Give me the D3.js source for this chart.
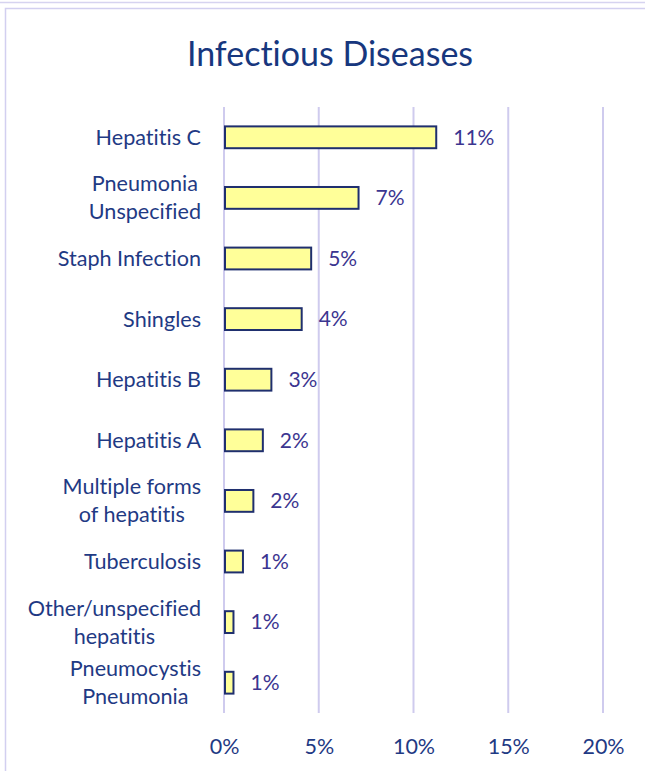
<!DOCTYPE html>
<html>
<head>
<meta charset="utf-8">
<script src="https://cdn.jsdelivr.net/npm/d3@7"></script>
<style>
  html, body { margin: 0; padding: 0; background: #ffffff; }
  svg { display: block; }
  text { font-variant-ligatures: none; }
</style>
</head>
<body>
<script>
const title = "Infectious Diseases";
const categories = [
  ["Hepatitis C"],
  ["Pneumonia", "Unspecified"],
  ["Staph Infection"],
  ["Shingles"],
  ["Hepatitis B"],
  ["Hepatitis A"],
  ["Multiple forms", "of hepatitis"],
  ["Tuberculosis"],
  ["Other/unspecified", "hepatitis"],
  ["Pneumocystis", "Pneumonia"]
];
const values = [11.2, 7.1, 4.6, 4.1, 2.5, 2.05, 1.55, 1.0, 0.5, 0.5];
const valueLabels = ["11%", "7%", "5%", "4%", "3%", "2%", "2%", "1%", "1%", "1%"];
const xTicks = [0, 5, 10, 15, 20];

const W = 645, H = 771;
const FONT = "Lato, 'Open Sans', sans-serif";
const margin = { left: 224, right: 42, top: 107, bottom: 58 };

const svg = d3.select("body").append("svg").attr("width", W).attr("height", H);

// outer frames
svg.append("line").attr("x1", 0).attr("x2", W).attr("y1", 2.5).attr("y2", 2.5)
  .attr("stroke", "#d6d3f0").attr("stroke-width", 1.5);
svg.append("rect").attr("x", 5.5).attr("y", 8.5).attr("width", W + 10).attr("height", H + 10)
  .attr("fill", "#ffffff").attr("stroke", "#d2cff0").attr("stroke-width", 1.5);

// title
svg.append("text").attr("x", 330).attr("y", 66).attr("text-anchor", "middle")
  .attr("font-family", FONT).attr("font-size", 34).attr("fill", "#17377e")
  .text(title);

const x = d3.scaleLinear().domain([0, 20]).range([margin.left, W - margin.right]);
const y = d3.scaleBand().domain(d3.range(categories.length))
  .range([margin.top, H - margin.bottom]).paddingInner(0.64).paddingOuter(0.32);

// gridlines
svg.append("g").selectAll("line").data(xTicks).join("line")
  .attr("x1", d => x(d)).attr("x2", d => x(d))
  .attr("y1", margin.top).attr("y2", H - margin.bottom)
  .attr("stroke", "#cfcbee").attr("stroke-width", 2);

// x axis labels
const xAxis = d3.axisBottom(x).tickValues(xTicks).tickFormat(d => d + "%").tickSize(0).tickPadding(0);
const gx = svg.append("g").attr("transform", `translate(0, ${H - margin.bottom + 26})`).call(xAxis);
gx.select(".domain").remove();
gx.selectAll("text").attr("font-family", FONT).attr("font-size", 21.5).attr("fill", "#1f3a84");

// bars
svg.append("g").selectAll("rect").data(values).join("rect")
  .attr("x", x(0) + 1)
  .attr("y", (d, i) => y(i))
  .attr("width", d => x(d) - x(0) - 1)
  .attr("height", y.bandwidth())
  .attr("fill", "#ffff99").attr("stroke", "#1f2f6e").attr("stroke-width", 2);

// value labels
svg.append("g").selectAll("text").data(values).join("text")
  .attr("x", d => x(d) + 17)
  .attr("y", (d, i) => y(i) + y.bandwidth() / 2)
  .attr("dy", "0.35em")
  .attr("font-family", FONT).attr("font-size", 21).attr("fill", "#3b3590")
  .text((d, i) => valueLabels[i]);

// category labels (centered block, right-aligned to axis)
const lineH = 28;
const gc = svg.append("g");
categories.forEach((lines, i) => {
  const cy = y(i) + y.bandwidth() / 2;
  const t = gc.append("text").attr("font-family", FONT).attr("font-size", 21.6)
    .attr("fill", "#1f3a84").attr("text-anchor", "middle");
  const tspans = lines.map((s, k) => t.append("tspan").text(s)
    .attr("y", cy + (k - (lines.length - 1) / 2) * lineH).attr("dy", "0.35em"));
  const maxW = d3.max(tspans, ts => ts.node().getComputedTextLength());
  const cx = 201 - maxW / 2;
  tspans.forEach(ts => ts.attr("x", cx));
});
</script>
</body>
</html>
